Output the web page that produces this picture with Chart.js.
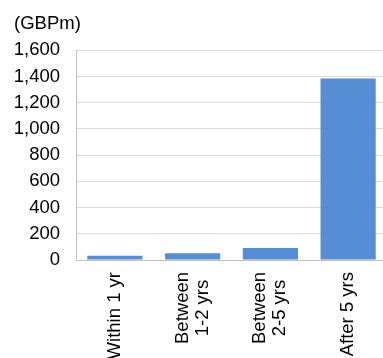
<!DOCTYPE html>
<html>
<head>
<meta charset="utf-8">
<script src="https://cdn.jsdelivr.net/npm/chart.js@4"></script>
<style>
  html, body { margin: 0; padding: 0; background: #fff; overflow: hidden; }
  #wrap { width: 387px; height: 358px; }
</style>
</head>
<body>
<div id="wrap"><canvas id="chart" width="387" height="358"></canvas></div>
<script>
// Maturity buckets and amounts (GBPm)
const categories = [['Within 1 yr'], ['Between', '1-2 yrs'], ['Between', '2-5 yrs'], ['After 5 yrs']];
const amounts = [32, 52, 92, 1384];
const yTicks = { min: 0, max: 1600, step: 200 };
const unitLabel = '(GBPm)';

const FONT = 'Liberation Sans';
const FONT_SIZE = 18.5;

// Draw the x labels rotated, each line centred, block centred on its tick
const rotatedLabels = {
    id: 'rotatedLabels',
    afterDraw(chart) {
        const xScale = chart.scales.x;
        const c = chart.ctx;
        const lineHeight = 20;
        c.save();
        c.font = FONT_SIZE + 'px "' + FONT + '"';
        c.fillStyle = '#000';
        c.textAlign = 'center';
        c.textBaseline = 'middle';
        chart.data.labels.forEach((lines, i) => {
            const x = xScale.getPixelForValue(i);
            const maxW = Math.max(...lines.map(l => c.measureText(l).width));
            const top = xScale.top + 12;
            c.save();
            c.translate(x, top + maxW / 2);
            c.rotate(-Math.PI / 2);
            lines.forEach((line, j) => {
                c.fillText(line, 0, (j - (lines.length - 1) / 2) * lineHeight);
            });
            c.restore();
        });
        c.restore();
    }
};

const ctx = document.getElementById('chart').getContext('2d');
const chart = new Chart(ctx, {
    type: 'bar',
    data: {
        labels: categories,
        datasets: [{
            data: amounts,
            backgroundColor: '#558ED5',
            borderWidth: 0,
            categoryPercentage: 1,
            barPercentage: 0.71
        }]
    },
    options: {
        responsive: false,
        animation: false,
        layout: { padding: { left: 14, right: 0, top: 0, bottom: 0 } },
        plugins: {
            legend: { display: false },
            tooltip: { enabled: false },
            title: {
                display: true,
                text: unitLabel,
                align: 'start',
                color: '#000',
                font: { family: FONT, size: FONT_SIZE, weight: 'normal' },
                padding: { top: 13, bottom: 15 }
            }
        },
        scales: {
            x: {
                grid: { display: false },
                border: { display: true, color: '#BFBFBF', width: 1 },
                ticks: { display: false },
                afterFit(scale) {
                    scale.height = 98;
                    scale.paddingLeft = 0;
                    scale.paddingRight = 0;
                }
            },
            y: {
                min: yTicks.min,
                max: yTicks.max,
                grid: { color: '#D9D9D9', drawTicks: false },
                border: { display: true, color: '#BFBFBF', width: 1 },
                ticks: {
                    stepSize: yTicks.step,
                    color: '#000',
                    font: { family: FONT, size: FONT_SIZE },
                    padding: 16
                },
                afterFit(scale) {
                    scale.width = 62;
                }
            }
        }
    },
    plugins: [rotatedLabels]
});
</script>
</body>
</html>
